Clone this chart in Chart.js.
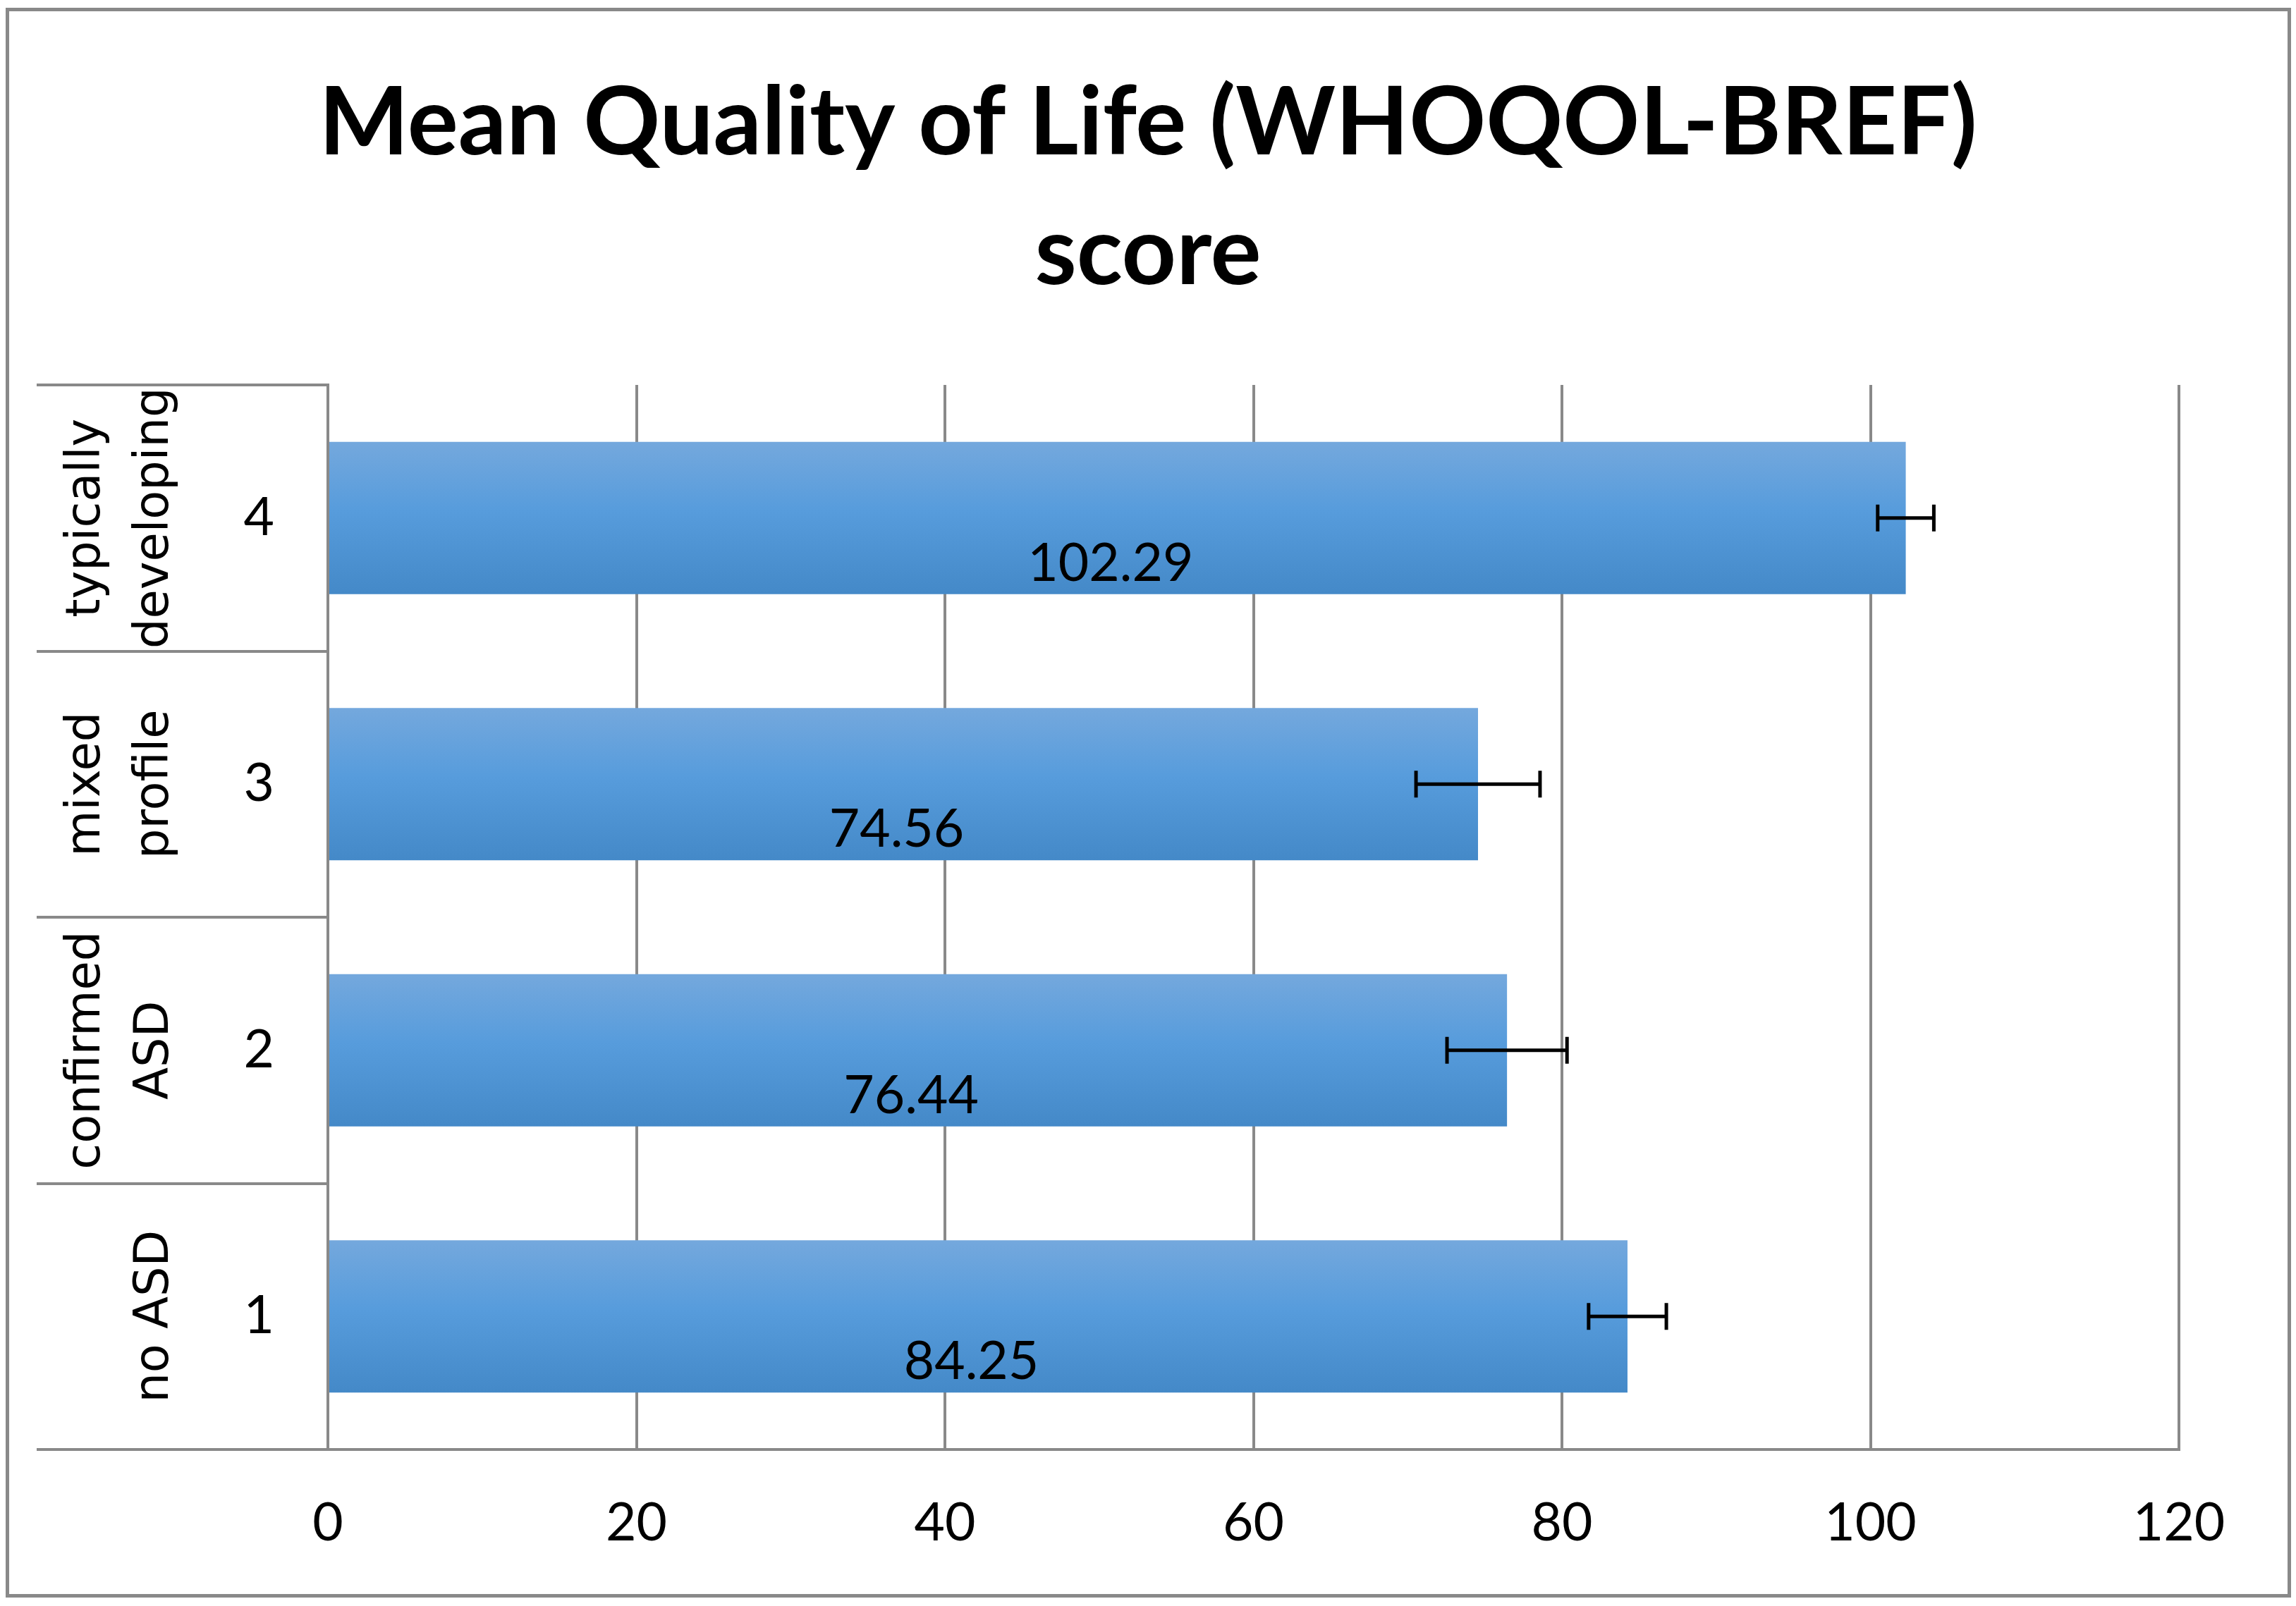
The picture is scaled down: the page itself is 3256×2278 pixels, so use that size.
<!DOCTYPE html>
<html>
<head>
<meta charset="utf-8">
<script src="https://cdn.jsdelivr.net/npm/chart.js@4.4.1/dist/chart.umd.min.js"></script>
<style>
  html, body { margin: 0; padding: 0; background: #ffffff; }
  #wrap { position: relative; width: 3256px; height: 2278px; }
  #frame { position: absolute; left: 8px; top: 11px; width: 3231px; height: 2245px; border: 5px solid #898989; pointer-events: none; }
  canvas { position: absolute; left: 0; top: 0; }
</style>
</head>
<body>
<div id="wrap">
  <canvas id="c" width="3256" height="2278"></canvas>
  <div id="frame"></div>
</div>
<script>
// ---- data ----
const categories = ['1', '2', '3', '4'];
const groupNames = [['no ASD'], ['confirmed', 'ASD'], ['mixed', 'profile'], ['typically', 'developing']];
const meanScores = [84.25, 76.44, 74.56, 102.29];
const errorMargins = [2.52, 3.89, 4.02, 1.82];
const xTicks = [0, 20, 40, 60, 80, 100, 120];
const titleLines = ['Mean Quality of Life (WHOQOL-BREF)', 'score'];

// ---- style ----
const GRID = '#898989';
const BAR_FRACTION = 0.572;
const NUM_FONT = { family: 'Lato', size: 75 };

function barGradient(ctx) {
  const chart = ctx.chart;
  const ys = chart.scales && chart.scales.y;
  if (!ys || ctx.dataIndex === undefined || !ys.height) return '#579cdc';
  const c = ys.getPixelForValue(ctx.dataIndex);
  const half = (ys.height / categories.length) * BAR_FRACTION / 2;
  const g = chart.ctx.createLinearGradient(0, c - half, 0, c + half);
  g.addColorStop(0, '#74a8dd');
  g.addColorStop(0.45, '#579cdc');
  g.addColorStop(1, '#4489c8');
  return g;
}

const decorPlugin = {
  id: 'decor',
  afterDatasetsDraw(chart) {
    const { ctx, scales: { x } } = chart;
    const meta = chart.getDatasetMeta(0);
    ctx.save();
    // error bars
    ctx.strokeStyle = '#000';
    ctx.lineWidth = 5;
    meta.data.forEach((bar, i) => {
      const v = meanScores[i], e = errorMargins[i];
      const x1 = x.getPixelForValue(v - e), x2 = x.getPixelForValue(v + e), cy = bar.y;
      const cap = 19;
      ctx.beginPath();
      ctx.moveTo(x1, cy); ctx.lineTo(x2, cy);
      ctx.moveTo(x1, cy - cap); ctx.lineTo(x1, cy + cap);
      ctx.moveTo(x2, cy - cap); ctx.lineTo(x2, cy + cap);
      ctx.stroke();
    });
    // value labels
    ctx.fillStyle = '#000';
    ctx.font = NUM_FONT.size + 'px ' + NUM_FONT.family;
    ctx.textAlign = 'center';
    ctx.textBaseline = 'alphabetic';
    meta.data.forEach((bar, i) => {
      ctx.fillText(meanScores[i].toFixed(2), (bar.base + bar.x) / 2 - 10, bar.y + 89);
    });
    ctx.restore();
  },
  afterDraw(chart) {
    const { ctx, scales: { y } } = chart;
    ctx.save();
    ctx.fillStyle = '#000';
    ctx.font = '67px "DejaVu Sans"';
    ctx.textAlign = 'center';
    ctx.textBaseline = 'alphabetic';
    groupNames.forEach((lines, i) => {
      const cy = y.getPixelForValue(i);
      ctx.save();
      ctx.translate(y.right - 227, cy);
      ctx.rotate(-Math.PI / 2);
      lines.forEach((t, j) => ctx.fillText(t, 0, -(lines.length - 1 - j) * 97));
      ctx.restore();
    });
    ctx.restore();
  }
};

new Chart(document.getElementById('c'), {
  type: 'bar',
  data: {
    labels: categories,
    datasets: [{
      data: meanScores,
      backgroundColor: barGradient,
      borderWidth: 0,
      barPercentage: BAR_FRACTION,
      categoryPercentage: 1
    }]
  },
  options: {
    indexAxis: 'y',
    responsive: false,
    animation: false,
    devicePixelRatio: 1,
    layout: { padding: 0 },
    plugins: {
      legend: { display: false },
      tooltip: { enabled: false },
      title: {
        display: true,
        text: titleLines,
        color: '#000',
        font: { family: 'Lato', weight: 'bold', size: 135, lineHeight: '184px' },
        padding: { top: 83, bottom: 95 }
      }
    },
    scales: {
      x: {
        type: 'linear',
        min: xTicks[0],
        max: xTicks[xTicks.length - 1],
        ticks: { stepSize: xTicks[1] - xTicks[0], color: '#000', font: NUM_FONT, padding: 60, maxRotation: 0 },
        grid: { color: GRID, lineWidth: 4, drawTicks: false },
        border: { display: true, color: GRID, width: 4 },
        afterFit(s) { s.height = 222; }
      },
      y: {
        type: 'category',
        reverse: true,
        offset: true,
        grid: { display: true, offset: true, drawOnChartArea: false, drawTicks: true, tickLength: 413, color: GRID, lineWidth: 4 },
        border: { display: true, color: GRID, width: 4 },
        ticks: { color: '#000', font: NUM_FONT, padding: -337 },
        afterFit(s) { s.width = 465; }
      },
      yR: {
        type: 'category',
        position: 'right',
        grid: { display: false },
        ticks: { display: false },
        border: { display: false },
        afterFit(s) { s.width = 166; }
      }
    }
  },
  plugins: [decorPlugin]
});
</script>
</body>
</html>
